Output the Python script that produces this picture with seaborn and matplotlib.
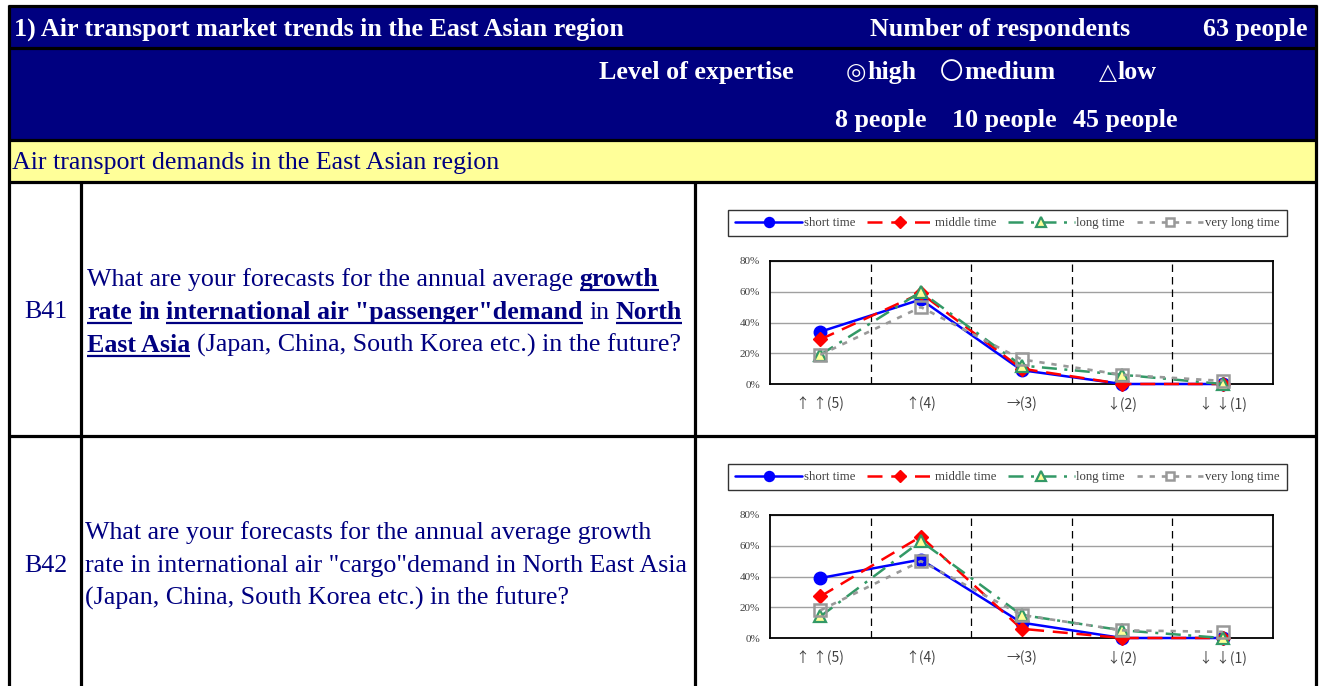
import matplotlib
matplotlib.use("Agg")
import matplotlib.pyplot as plt
import seaborn as sns
import numpy as np
from matplotlib.patches import Rectangle

# ---------------- data ----------------
categories = ["↑ ↑(5)", "↑(4)", "→(3)", "↓(2)", "↓ ↓(1)"]
series_names = ["short time", "middle time", "long time", "very long time"]

b41_short = [34, 55, 9, 0, 0]
b41_middle = [29, 59, 10, 0, 0]
b41_long = [19, 60, 12, 6, 0]
b41_very_long = [19, 50, 16, 6, 2]

b42_short = [39, 51, 10, 0, 0]
b42_middle = [27, 66, 6, 0, 0]
b42_long = [14, 63, 15, 5, 0]
b42_very_long = [18, 50, 15, 5, 4]

y_ticks = [0, 20, 40, 60, 80]

title_text = "1) Air transport market trends in the East Asian region"
respondents_label = "Number of respondents"
respondents_total = "63 people"
expertise_label = "Level of expertise"
expertise_symbols = ["◎", "〇", "△"]
expertise_words = ["high", "medium", "low"]
expertise_counts = ["8 people", "10 people", "45 people"]
section_text = "Air transport demands in the East Asian region"

b41_code = "B41"
b41_lines = [
    [("What are your forecasts for the annual average", False, False), ("growth", True, True)],
    [("rate", True, True), ("in", True, False), ('international air "passenger"demand', True, True),
     ("in", False, False), ("North", True, True)],
    [("East Asia", True, True), ("(Japan, China, South Korea etc.) in the future?", False, False)],
]
b42_code = "B42"
b42_lines = [
    [("What are your forecasts for the annual average growth", False, False)],
    [('rate in international air "cargo"demand in North East Asia', False, False)],
    [("(Japan, China, South Korea etc.) in the future?", False, False)],
]

# ---------------- styles ----------------
sns.set_theme(style="white")
FAM = ["Liberation Serif", "DejaVu Serif", "Noto Sans CJK JP"]
plt.rcParams["font.family"] = FAM

W, H = 1321, 686
NAVY = "#000080"
YELLOW = "#FFFF99"
TXT = 18.7

fig = plt.figure(figsize=(W / 100, H / 100), dpi=100)
fig.patch.set_facecolor("white")
bg = fig.add_axes([0, 0, 1, 1])
bg.set_xlim(0, W)
bg.set_ylim(H, 0)
bg.axis("off")

# table fills
bg.add_patch(Rectangle((8, 6), 1308, 134, facecolor=NAVY, edgecolor="none"))
bg.add_patch(Rectangle((8, 140), 1308, 42, facecolor=YELLOW, edgecolor="none"))
LW = 2.3
for yy in [5.5, 48, 140, 182, 436]:
    bg.plot([8, 1317], [yy, yy], color="black", lw=LW, solid_capstyle="butt")
for xx, y0 in [(9, 5), (1316, 5), (81, 182), (695, 182)]:
    bg.plot([xx, xx], [y0, H], color="black", lw=LW, solid_capstyle="butt")

# header texts
hdr = dict(color="white", fontweight="bold", fontsize=TXT, va="baseline", ha="left")
bg.text(14, 36, title_text, **hdr)
bg.text(870, 36, respondents_label, **hdr)
bg.text(1203, 36, respondents_total, **hdr)
bg.text(599, 79, expertise_label, **hdr)
for xs_word, sym, word in zip([867, 964, 1118], expertise_symbols, expertise_words):
    bg.text(xs_word - 1, 79, sym, color="white", fontsize=TXT * 0.9, va="baseline", ha="right",
            fontfamily=["DejaVu Sans", "Noto Sans CJK JP"])
    bg.text(xs_word, 79, word, **hdr)
for xx, s in zip([835, 952, 1073], expertise_counts):
    bg.text(xx, 127, s, **hdr)
bg.text(12, 169, section_text, color=NAVY, fontsize=TXT, va="baseline", ha="left")

fig.canvas.draw()
renderer = fig.canvas.get_renderer()


def text_width(s, bold):
    t = bg.text(0, 0, s, fontsize=TXT, fontweight="bold" if bold else "normal")
    w = t.get_window_extent(renderer=renderer).width
    t.remove()
    return w


def rich_line(x, y, segments):
    for txt, bold, ul in segments:
        t = bg.text(x, y, txt, fontsize=TXT, fontweight="bold" if bold else "normal",
                    color=NAVY, va="baseline", ha="left")
        w = t.get_window_extent(renderer=renderer).width
        if ul:
            bg.plot([x, x + w], [y + 3.5, y + 3.5], color=NAVY, lw=1.6, solid_capstyle="butt")
        sp = text_width("n n", bold) - text_width("nn", bold)
        x += w + sp


bg.text(46, 318, b41_code, color=NAVY, fontsize=TXT, ha="center", va="baseline")
for yy, segs in zip([286, 319, 352], b41_lines):
    rich_line(87, yy, segs)
bg.text(46, 572, b42_code, color=NAVY, fontsize=TXT, ha="center", va="baseline")
for yy, segs in zip([539, 572, 605], b42_lines):
    rich_line(85, yy, segs)

# ---------------- charts ----------------
styles = [
    dict(color="#0000FF", linestyle="-", linewidth=1.8, marker="o", markersize=9,
         markerfacecolor="#0000FF", markeredgecolor="#0000FF", markeredgewidth=1),
    dict(color="#FF0000", linestyle=(0, (6, 3.5)), linewidth=1.8, marker="D", markersize=7.5,
         markerfacecolor="#FF0000", markeredgecolor="#FF0000", markeredgewidth=1),
    dict(color="#339966", linestyle=(0, (6, 3, 1.2, 3)), linewidth=1.8, marker="^", markersize=8.5,
         markerfacecolor=YELLOW, markeredgecolor="#339966", markeredgewidth=1.6),
    dict(color="#999999", linestyle=(0, (2, 2.6)), linewidth=1.9, marker="s", markersize=8,
         markerfacecolor="none", markeredgecolor="#999999", markeredgewidth=1.8),
]


def px_rect(x0, y0, x1, y1):
    return [x0 / W, 1 - y1 / H, (x1 - x0) / W, (y1 - y0) / H]


def draw_chart(top, series):
    ax = fig.add_axes(px_rect(770, top, 1273, top + 123))
    xs = np.arange(len(categories))
    for b in xs[:-1] + 0.5:
        ax.axvline(b, color="black", lw=0.9, linestyle=(0, (6, 4)), zorder=1)
    ax.yaxis.grid(True, color="#A0A0A0", lw=1.0)
    ax.set_axisbelow(True)
    for name, vals, st in zip(series_names, series, styles):
        sns.lineplot(x=xs, y=vals, ax=ax, label=name, errorbar=None, legend=False,
                     clip_on=False, zorder=3, **st)
    ax.set_xlim(-0.5, len(categories) - 0.5)
    ax.set_ylim(y_ticks[0], y_ticks[-1])
    ax.set_yticks(y_ticks)
    ax.set_yticklabels([f"{v}%" for v in y_ticks])
    ax.set_xticks(xs)
    ax.set_xticklabels(categories, fontfamily=["Noto Sans CJK JP", "DejaVu Sans"])
    ax.set_xlabel("")
    ax.set_ylabel("")
    ax.tick_params(axis="y", length=0, pad=7, labelsize=8, labelcolor="#404040")
    ax.tick_params(axis="x", length=0, pad=9, labelsize=10, labelcolor="#404040")
    for s in ax.spines.values():
        s.set_visible(True)
        s.set_color("black")
        s.set_linewidth(1.3)
    ax.set_facecolor("white")
    handles, labels = ax.get_legend_handles_labels()
    leg = ax.legend(handles, labels, loc="center",
                    bbox_to_anchor=((729 + 1286) / 2 / W, 1 - (top - 38) / H),
                    bbox_transform=fig.transFigure, ncol=4, frameon=True, fancybox=False,
                    edgecolor="#333333", framealpha=1, fontsize=9.2, handlelength=5.2,
                    handletextpad=0.15, columnspacing=0.9, borderpad=0.55, markerscale=0.8,
                    labelcolor="#404040")
    leg.get_frame().set_linewidth(1.0)
    return ax


draw_chart(261, [b41_short, b41_middle, b41_long, b41_very_long])
draw_chart(515, [b42_short, b42_middle, b42_long, b42_very_long])

fig.savefig("out.png", dpi=100, facecolor="white")
